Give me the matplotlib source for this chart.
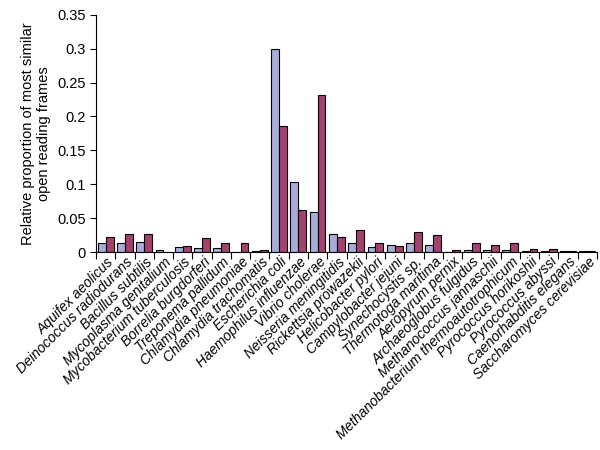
import matplotlib
matplotlib.use("Agg")
import matplotlib.pyplot as plt
import numpy as np

plt.rcParams['font.family'] = ['Liberation Sans', 'DejaVu Sans']

organisms = [
    "Aquifex aeolicus", "Deinococcus radiodurans", "Bacillus subtilis",
    "Mycoplasma genitalium", "Mycobacterium tuberculosis", "Borrelia burgdorferi",
    "Treponema pallidum", "Chlamydia pneumoniae", "Chlamydia trachomatis",
    "Escherichia coli", "Haemophilus influenzae", "Vibrio cholerae",
    "Neisseria meningitidis", "Rickettsia prowazekii", "Helicobacter pylori",
    "Campylobacter jejuni", "Synechocystis sp.", "Thermotoga maritima",
    "Aeropyrum pernix", "Archaeoglobus fulgidus", "Methanococcus jannaschii",
    "Methanobacterium thermoautotrophicum", "Pyrococcus horikoshii",
    "Pyrococcus abyssi", "Caenorhabditis elegans", "Saccharomyces cerevisiae",
]

series_a = [0.014, 0.013, 0.015, 0.003, 0.007, 0.0055, 0.0055, 0.0, 0.0015,
            0.300, 0.104, 0.059, 0.027, 0.013, 0.007, 0.011, 0.014, 0.011,
            0.0, 0.0025, 0.0025, 0.003, 0.001, 0.001, 0.0015, 0.0015]
series_b = [0.022, 0.026, 0.026, 0.0, 0.0085, 0.020, 0.013, 0.013, 0.003,
            0.186, 0.062, 0.231, 0.022, 0.033, 0.013, 0.0095, 0.029, 0.025,
            0.003, 0.013, 0.011, 0.013, 0.004, 0.005, 0.0015, 0.0015]

yticks = [0, 0.05, 0.1, 0.15, 0.2, 0.25, 0.3, 0.35]
ytick_labels = ["0", "0.05", "0.1", "0.15", "0.2", "0.25", "0.3", "0.35"]

fig = plt.figure(figsize=(6, 4.5), dpi=100)
ax = fig.add_axes([0.16, 0.44, 0.835, 0.527])

x = np.arange(len(organisms))
w = 0.41
ax.bar(x - w / 2, series_a, width=w, color="#ABABDA", edgecolor="black", linewidth=0.8)
ax.bar(x + w / 2, series_b, width=w, color="#A3416F", edgecolor="black", linewidth=0.8)

ax.set_xlim(-0.5, len(organisms) - 0.5)
ax.set_ylim(0, 0.35)
ax.set_yticks(yticks)
ax.set_yticklabels(ytick_labels, fontsize=10.5)

ax.set_xticks(np.arange(len(organisms) + 1) - 0.5)
ax.set_xticklabels([])
ax.tick_params(axis='x', direction='out', length=5, width=0.8)
ax.tick_params(axis='y', direction='out', length=4, width=0.8)

for i, name in enumerate(organisms):
    ax.annotate(name, xy=(i + 0.05, 0), xycoords=('data', 'axes fraction'),
                xytext=(0, -2), textcoords='offset points',
                rotation=45, ha='right', va='top', rotation_mode='anchor',
                fontsize=10, fontstyle='italic')

for s in ['top', 'right']:
    ax.spines[s].set_visible(False)
ax.spines['left'].set_linewidth(0.8)
ax.spines['bottom'].set_linewidth(0.8)

ax.set_ylabel("Relative proportion of most similar\nopen reading frames", fontsize=10.5)

fig.savefig("out.png", dpi=100)
